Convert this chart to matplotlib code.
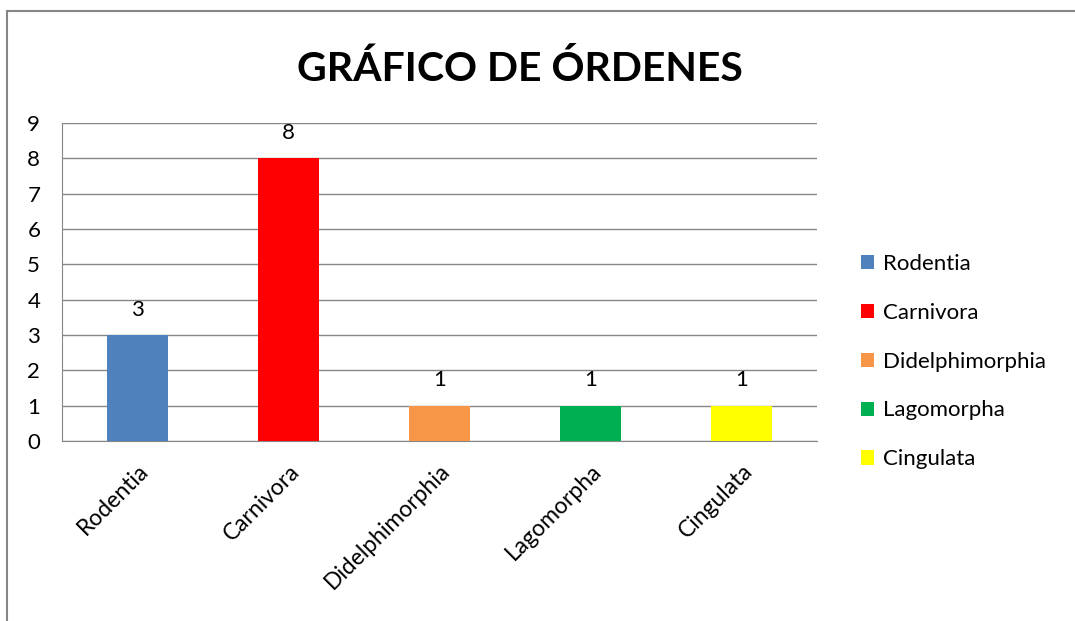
import matplotlib.pyplot as plt
from matplotlib.patches import Rectangle

plt.rcParams['font.family'] = ['Lato', 'DejaVu Sans']

# Datos
ordenes = ['Rodentia', 'Carnivora', 'Didelphimorphia', 'Lagomorpha', 'Cingulata']
conteos = [3, 8, 1, 1, 1]
colores = ['#4F81BD', '#FF0000', '#F79646', '#00B050', '#FFFF00']

fig = plt.figure(figsize=(10.75, 6.21), dpi=100)
ax = fig.add_axes([62 / 1075, 1 - 441 / 621, 755 / 1075, 318 / 621])

# marco del gráfico
fig.patches.append(Rectangle((7 / 1075, -0.05), 1.1, 1 - 11 / 621 + 0.05,
                             transform=fig.transFigure, fill=False,
                             edgecolor='#868686', linewidth=1.5))

x = range(len(ordenes))
bars = ax.bar(x, conteos, width=0.4, color=colores, label=ordenes, zorder=3)
for xi, v in zip(x, conteos):
    ax.text(xi, v + 0.72, str(v), ha='center', va='center', fontsize=16)

ax.set_xlim(-0.5, len(ordenes) - 0.5)
ax.set_ylim(0, 9)
ax.set_yticks(range(10))
ax.yaxis.grid(True, color='#868686', linewidth=1, zorder=0)
ax.tick_params(axis='y', length=0, labelsize=16, pad=25)
ax.tick_params(axis='x', length=0, labelsize=16.5, pad=14)
ax.set_xticks(list(x))
ax.set_xticklabels(ordenes, rotation=45, ha='right', rotation_mode='anchor')
for s in ['top', 'right']:
    ax.spines[s].set_visible(False)
for s in ['left', 'bottom']:
    ax.spines[s].set_color('#868686')
for lbl in ax.get_yticklabels():
    lbl.set_horizontalalignment('left')

ax.set_title('GRÁFICO DE ÓRDENES', fontsize=29.5, fontweight='bold', pad=30, x=0.607)

ax.legend(handles=bars, labels=ordenes, loc='center left', bbox_to_anchor=(1.032, 0.25),
          frameon=False, fontsize=16, handlelength=0.6, handleheight=0.6,
          handletextpad=0.4, labelspacing=1.3)

fig.savefig('out.png', dpi=100)
